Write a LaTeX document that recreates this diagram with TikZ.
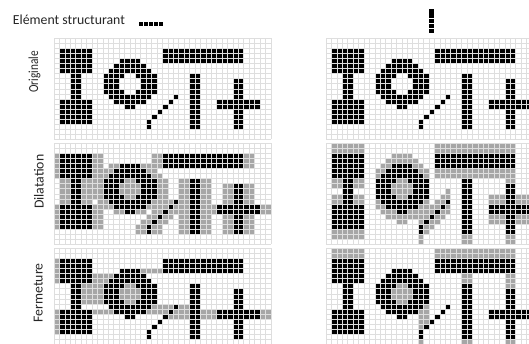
\documentclass[tikz,border=0pt]{standalone}
\usepackage{fontspec}
\setmainfont{Carlito}
\definecolor{pixgray}{HTML}{A6A6A6}
\definecolor{gridgray}{HTML}{DEDEDE}
\definecolor{labelgray}{HTML}{262626}
\tikzstyle{every node}=[font=\fontsize{13.8}{16}\selectfont, text=labelgray, inner sep=0pt]
\tikzstyle{black pixel}=[fill=black]
\tikzstyle{gray pixel}=[fill=pixgray]
\tikzstyle{grid line}=[draw=gridgray, line width=0.5pt]
\tikzstyle{panel}=[x=5.42pt, y=-5.05pt]

% row/first col/last col
\newcommand{\origruns}{2/1/6, 2/20/34, 3/1/6, 3/20/34, 4/1/6, 4/12/15, 4/20/34,
  5/1/6, 5/11/16, 6/1/6, 6/10/17,
  7/3/4, 7/9/12, 7/15/18, 7/25/26, 8/3/4, 8/9/11, 8/16/18, 8/25/26, 8/33/34,
  9/3/4, 9/9/11, 9/16/18, 9/25/26, 9/33/34, 10/3/4, 10/9/12, 10/15/18, 10/25/26, 10/33/34,
  11/3/4, 11/10/17, 11/22/22, 11/25/26, 11/33/34, 12/1/6, 12/11/16, 12/21/21, 12/25/26, 12/30/37,
  13/1/6, 13/13/14, 13/20/20, 13/25/26, 13/30/37, 14/1/6, 14/19/19, 14/25/26, 14/33/34,
  15/1/6, 15/18/18, 15/25/26, 15/33/34, 16/1/6, 16/17/17, 16/25/26, 16/33/34,
  17/17/17, 17/25/26, 17/33/34}
\newcommand{\hdilruns}{2/0/8, 2/18/36, 3/0/8, 3/18/36, 4/0/8, 4/10/36, 5/0/18, 6/0/19,
  7/1/20, 7/23/28, 8/1/20, 8/23/28, 8/31/36, 9/1/20, 9/23/28, 9/31/36,
  10/1/20, 10/23/28, 10/31/36, 11/1/6, 11/8/28, 11/31/36, 12/0/39,
  13/0/8, 13/11/16, 13/18/39, 14/0/8, 14/17/21, 14/23/28, 14/31/36,
  15/0/8, 15/16/20, 15/23/28, 15/31/36, 16/0/8, 16/15/19, 16/23/28, 16/31/36,
  17/15/19, 17/23/28, 17/31/36}
\newcommand{\hcloseruns}{2/0/0, 3/0/0, 4/0/0, 4/16/19, 5/0/0, 5/7/10, 6/0/0, 6/7/9,
  7/5/8, 7/13/14, 8/5/8, 8/12/15, 9/5/8, 9/12/15, 10/5/8, 10/13/14,
  11/18/21, 11/23/24, 12/0/0, 12/7/10, 12/17/20, 12/22/24, 12/27/29, 12/38/39,
  13/0/0, 13/21/24, 13/27/29, 13/38/39, 14/0/0, 15/0/0, 16/0/0}
% col/first row/last row
\newcommand{\vdilruns}{1/0/8, 1/10/18, 2/0/8, 2/10/18, 3/0/18, 4/0/18, 5/0/8, 5/10/18, 6/0/8, 6/10/18,
  9/5/12, 10/4/13, 11/3/14, 12/2/14, 13/2/15, 14/2/15, 15/2/14, 16/3/14, 17/4/19, 18/5/17, 19/12/16,
  20/0/6, 20/11/15, 21/0/6, 21/10/14, 22/0/6, 22/9/13, 23/0/6, 24/0/6, 25/0/19, 26/0/19,
  27/0/6, 28/0/6, 29/0/6, 30/0/6, 30/10/15, 31/0/6, 31/10/15, 32/0/6, 32/10/15,
  33/0/19, 34/0/19, 35/10/15, 36/10/15, 37/10/15}
\newcommand{\vcloseruns}{1/0/1, 2/0/1, 3/0/1, 4/0/1, 5/0/1, 6/0/1,
  12/8/9, 13/7/10, 14/7/10, 15/8/9, 17/12/15, 17/18/19, 18/11/14,
  20/0/1, 21/0/1, 22/0/1, 23/0/1, 24/0/1, 25/0/1, 25/5/6, 25/18/19, 26/0/1, 26/5/6, 26/18/19,
  27/0/1, 28/0/1, 29/0/1, 30/0/1, 31/0/1, 32/0/1, 33/0/1, 33/5/7, 33/18/19, 34/0/1, 34/5/7, 34/18/19}

\newcommand{\rowfill}[2]{\foreach \rw/\ca/\cb in #2 {\fill[#1] (\ca,\rw) rectangle (\cb+1,\rw+1);}}
\newcommand{\colfill}[2]{\foreach \cl/\ra/\rb in #2 {\fill[#1] (\cl,\ra) rectangle (\cl+1,\rb+1);}}
\newcommand{\pixgrid}{%
  \foreach \i in {0,...,40} {\draw[grid line] (\i,0) -- (\i,20);}
  \foreach \j in {0,...,20} {\draw[grid line] (0,\j) -- (40,\j);}}

\begin{document}
\begin{tikzpicture}[x=1pt, y=-1pt]
  \useasboundingbox (0,0) rectangle (529,344);
  \clip (0,0) rectangle (529,344);

  \node[anchor=base west] (title) at (12.7,24.5) {Elément structurant};
  \foreach \i in {0,...,4} {\fill (138.5+5*\i,22.2) rectangle +(4.4,4.2);}
  \foreach \i in {0,...,4} {\fill (429.4,9.4+4.8*\i) rectangle +(4.6,4.2);}

  \node[rotate=90, xscale=0.82] (lblorig) at (34.5,72) {Originale};
  \node[rotate=90] (lbldil) at (39,181.7) {Dilatation};
  \node[rotate=90] (lblferm) at (38.2,293) {Fermeture};

  % originale
  \begin{scope}[shift={(54,38.3)}, panel]
    \rowfill{black pixel}{\origruns}
    \pixgrid
  \end{scope}
  \begin{scope}[shift={(326,38.3)}, panel]
    \rowfill{black pixel}{\origruns}
    \pixgrid
  \end{scope}

  % dilatation
  \begin{scope}[shift={(54,143.3)}, panel]
    \rowfill{gray pixel}{\hdilruns}
    \rowfill{black pixel}{\origruns}
    \pixgrid
  \end{scope}
  \begin{scope}[shift={(326,143.3)}, panel]
    \colfill{gray pixel}{\vdilruns}
    \rowfill{black pixel}{\origruns}
    \pixgrid
  \end{scope}

  % fermeture
  \begin{scope}[shift={(54,248.3)}, panel]
    \rowfill{gray pixel}{\hcloseruns}
    \rowfill{black pixel}{\origruns}
    \pixgrid
  \end{scope}
  \begin{scope}[shift={(326,248.3)}, panel]
    \colfill{gray pixel}{\vcloseruns}
    \rowfill{black pixel}{\origruns}
    \pixgrid
  \end{scope}
\end{tikzpicture}
\end{document}
